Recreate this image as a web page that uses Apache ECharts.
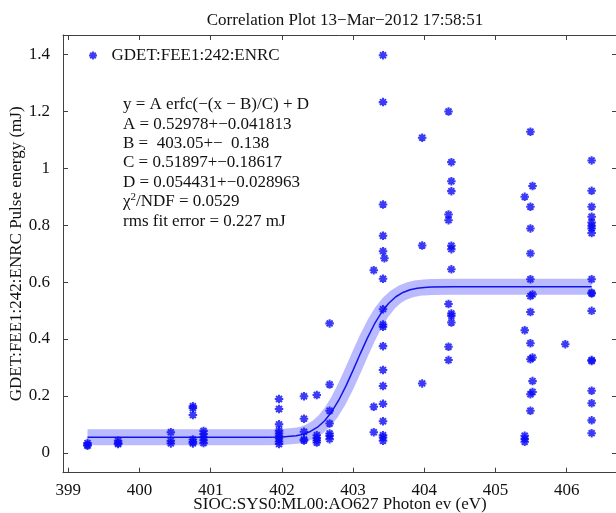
<!DOCTYPE html>
<html>
<head>
<meta charset="utf-8">
<script src="https://cdn.jsdelivr.net/npm/echarts@6/dist/echarts.min.js"></script>
<style>html,body{margin:0;padding:0;background:#fff}#chart{width:616px;height:513px}</style>
</head>
<body>
<div id="chart"></div>
<script>
// ---- data ----
const photonEv = [
  399.27,399.27,399.27,
  399.70,399.70,399.70,
  400.44,400.44,400.44,
  400.75,400.75,400.75,400.75,400.75,400.75,
  400.90,400.90,400.90,400.90,400.90,
  401.96,401.96,401.96,401.96,401.96,401.96,401.96,401.96,401.96,
  402.31,402.31,402.31,402.31,402.31,
  402.49,402.49,402.49,402.49,402.49,
  402.67,402.67,402.67,402.67,402.67,402.67,402.67,
  403.29,403.29,403.29,
  403.42,403.42,403.42,403.42,403.42,403.44,403.42,403.42,403.42,403.42,403.42,403.42,403.42,403.42,403.42,403.42,403.42,403.42,
  403.97,403.97,403.97,
  404.34,404.34,404.34,404.34,404.34,404.34,
  404.38,404.38,404.38,404.38,404.38,404.38,404.38,404.38,404.38,
  405.41,405.41,405.41,405.41,405.41,
  405.49,405.49,405.49,405.49,405.49,405.52,405.49,405.49,405.49,405.52,405.49,405.52,405.52,405.49,405.49,
  405.52,
  405.98,
  406.35,406.35,406.35,406.35,406.35,406.35,406.35,406.35,406.35,406.35,406.35,406.35,406.35,406.35,406.35,406.35,406.35,406.35
];
const pulseEnergy = [
  0.034,0.028,0.025,
  0.042,0.034,0.031,
  0.072,0.042,0.033,
  0.164,0.157,0.133,0.047,0.038,0.033,
  0.077,0.066,0.055,0.044,0.034,
  0.189,0.154,0.100,0.078,0.068,0.058,0.050,0.040,0.031,
  0.199,0.120,0.074,0.047,0.043,
  0.203,0.062,0.052,0.044,0.036,
  0.455,0.240,0.148,0.103,0.068,0.059,0.048,
  0.642,0.162,0.072,
  1.398,1.233,0.873,0.763,0.709,0.684,0.612,0.505,0.451,0.443,0.375,0.291,0.235,0.172,0.111,0.062,0.054,0.042,
  1.108,0.729,0.244,
  1.200,0.838,0.818,0.523,0.373,0.326,
  1.022,0.955,0.920,0.728,0.716,0.645,0.490,0.482,0.458,
  0.900,0.431,0.060,0.049,0.039,
  1.129,0.865,0.789,0.701,0.610,0.557,0.551,0.495,0.385,0.335,0.329,0.252,0.214,0.206,0.148,
  0.938,
  0.382,
  1.028,0.921,0.865,0.830,0.810,0.798,0.789,0.773,0.610,0.563,0.560,0.499,0.326,0.323,0.218,0.174,0.114,0.069
];
// fitted curve
const fitEv = [399.27,401.5,401.8,402.0,402.2,402.3,402.4,402.5,402.6,402.7,402.8,402.9,403.0,403.05,403.1,403.2,403.3,403.4,403.5,403.6,403.7,403.8,403.9,404.0,404.1,404.4,406.35];
const fitMJ = [0.0544,0.0544,0.0546,0.0556,0.0596,0.0654,0.0750,0.0899,0.1126,0.1445,0.1857,0.2353,0.2906,0.3193,0.3480,0.4033,0.4529,0.4941,0.5260,0.5487,0.5637,0.5732,0.5789,0.5815,0.5831,0.5841,0.5842];
const xTicks = [399,400,401,402,403,404,405,406];
const yTicks = [0,0.2,0.4,0.6,0.8,1,1.2,1.4];
const titleText = 'Correlation Plot 13\u2212Mar\u22122012 17:58:51';
const xName = 'SIOC:SYS0:ML00:AO627 Photon ev (eV)';
const yName = 'GDET:FEE1:242:ENRC Pulse energy (mJ)';
const seriesName = 'GDET:FEE1:242:ENRC';
const fitLines = [
  'y = A erfc(\u2212(x \u2212 B)/C) + D',
  'A = 0.52978+\u22120.041813',
  'B =  403.05+\u2212  0.138',
  'C = 0.51897+\u22120.18617',
  'D = 0.054431+\u22120.028963',
  '\u03c7{sup|2}/NDF = 0.0529',
  'rms fit error = 0.227 mJ'
];

// ---- chart ----
const FONT = '"Liberation Serif", "DejaVu Serif", serif';
const star = 'path://M0,3.8H10V6.2H0Z M3.8,0H6.2V10H3.8Z M0.65,2.35L2.35,0.65L9.35,7.65L7.65,9.35Z M7.65,0.65L9.35,2.35L2.35,9.35L0.65,7.65Z M7.6,5A2.6,2.6 0 1 1 2.4,5A2.6,2.6 0 1 1 7.6,5Z';
const axisCol = '#404040';
const X_MIN = 398.926, X_MAX = 406.706, Y_MIN = -0.07, Y_MAX = 1.469;

function xAxisOpt(pos, labels) {
  return {
    type: 'value', position: pos, min: X_MIN, max: X_MAX, splitNumber: 8,
    axisLine: { show: true, onZero: false, lineStyle: { color: axisCol, width: 1 } },
    axisTick: { show: true, inside: true, length: 5, customValues: xTicks, lineStyle: { color: axisCol } },
    axisLabel: { show: labels, customValues: xTicks, margin: 9, fontFamily: FONT, fontSize: 17, color: '#111' },
    splitLine: { show: false },
    name: labels ? xName : '', nameLocation: 'middle', nameGap: 23, nameMoveOverlap: false,
    nameTextStyle: { fontFamily: FONT, fontSize: 17, color: '#111' }
  };
}
function yAxisOpt(pos, labels) {
  return {
    type: 'value', position: pos, min: Y_MIN, max: Y_MAX, splitNumber: 7,
    axisLine: { show: true, onZero: false, lineStyle: { color: axisCol, width: 1 } },
    axisTick: { show: true, inside: true, length: 5, customValues: yTicks, lineStyle: { color: axisCol } },
    axisLabel: { show: labels, customValues: yTicks, margin: 13, fontFamily: FONT, fontSize: 17, color: '#111' },
    splitLine: { show: false },
    name: labels ? yName : '', nameLocation: 'middle', nameGap: 38, nameRotate: 90, nameMoveOverlap: false,
    nameTextStyle: { fontFamily: FONT, fontSize: 17, color: '#111' }
  };
}

const chart = echarts.init(document.getElementById('chart'), null, { renderer: 'canvas' });
chart.setOption({
  animation: false,
  backgroundColor: '#fff',
  title: { text: titleText, left: 340, textAlign: 'center', top: 7,
    textStyle: { fontFamily: FONT, fontSize: 17, fontWeight: 'normal', color: '#111' } },
  grid: { left: 63, top: 35, width: 554, height: 437.7, containLabel: false, outerBoundsMode: 'none' },
  legend: {
    data: [{ name: seriesName, icon: star }],
    left: 89, top: 47, itemWidth: 27, itemHeight: 8, padding: 0,
    selectedMode: false,
    textStyle: { fontFamily: FONT, fontSize: 17, color: '#111' }
  },
  xAxis: [xAxisOpt('bottom', true), xAxisOpt('top', false)],
  yAxis: [yAxisOpt('left', true), yAxisOpt('right', false)],
  graphic: [{
    type: 'text', left: 123, top: 95, silent: true,
    style: {
      text: fitLines.join('\n'),
      font: '17px ' + FONT, fill: '#111', lineHeight: 19.4,
      rich: { sup: { fontFamily: FONT, fontSize: 11, fill: '#111', verticalAlign: 'top', lineHeight: 12 } }
    }
  }],
  series: [
    { type: 'line', name: 'band', data: fitEv.map((x, i) => [x, fitMJ[i]]), showSymbol: false, silent: true,
      lineStyle: { color: 'rgba(0,0,255,0.27)', width: 16, cap: 'butt', join: 'round' }, z: 1 },
    { type: 'line', name: 'fit', data: fitEv.map((x, i) => [x, fitMJ[i]]), showSymbol: false, silent: true,
      lineStyle: { color: '#1414e6', width: 1.5 }, z: 2 },
    { type: 'scatter', name: seriesName, data: photonEv.map((x, i) => [x, pulseEnergy[i]]),
      symbol: star, symbolSize: 8.5, itemStyle: { color: '#0a0af5' }, z: 3 }
  ]
});
</script>
</body>
</html>
